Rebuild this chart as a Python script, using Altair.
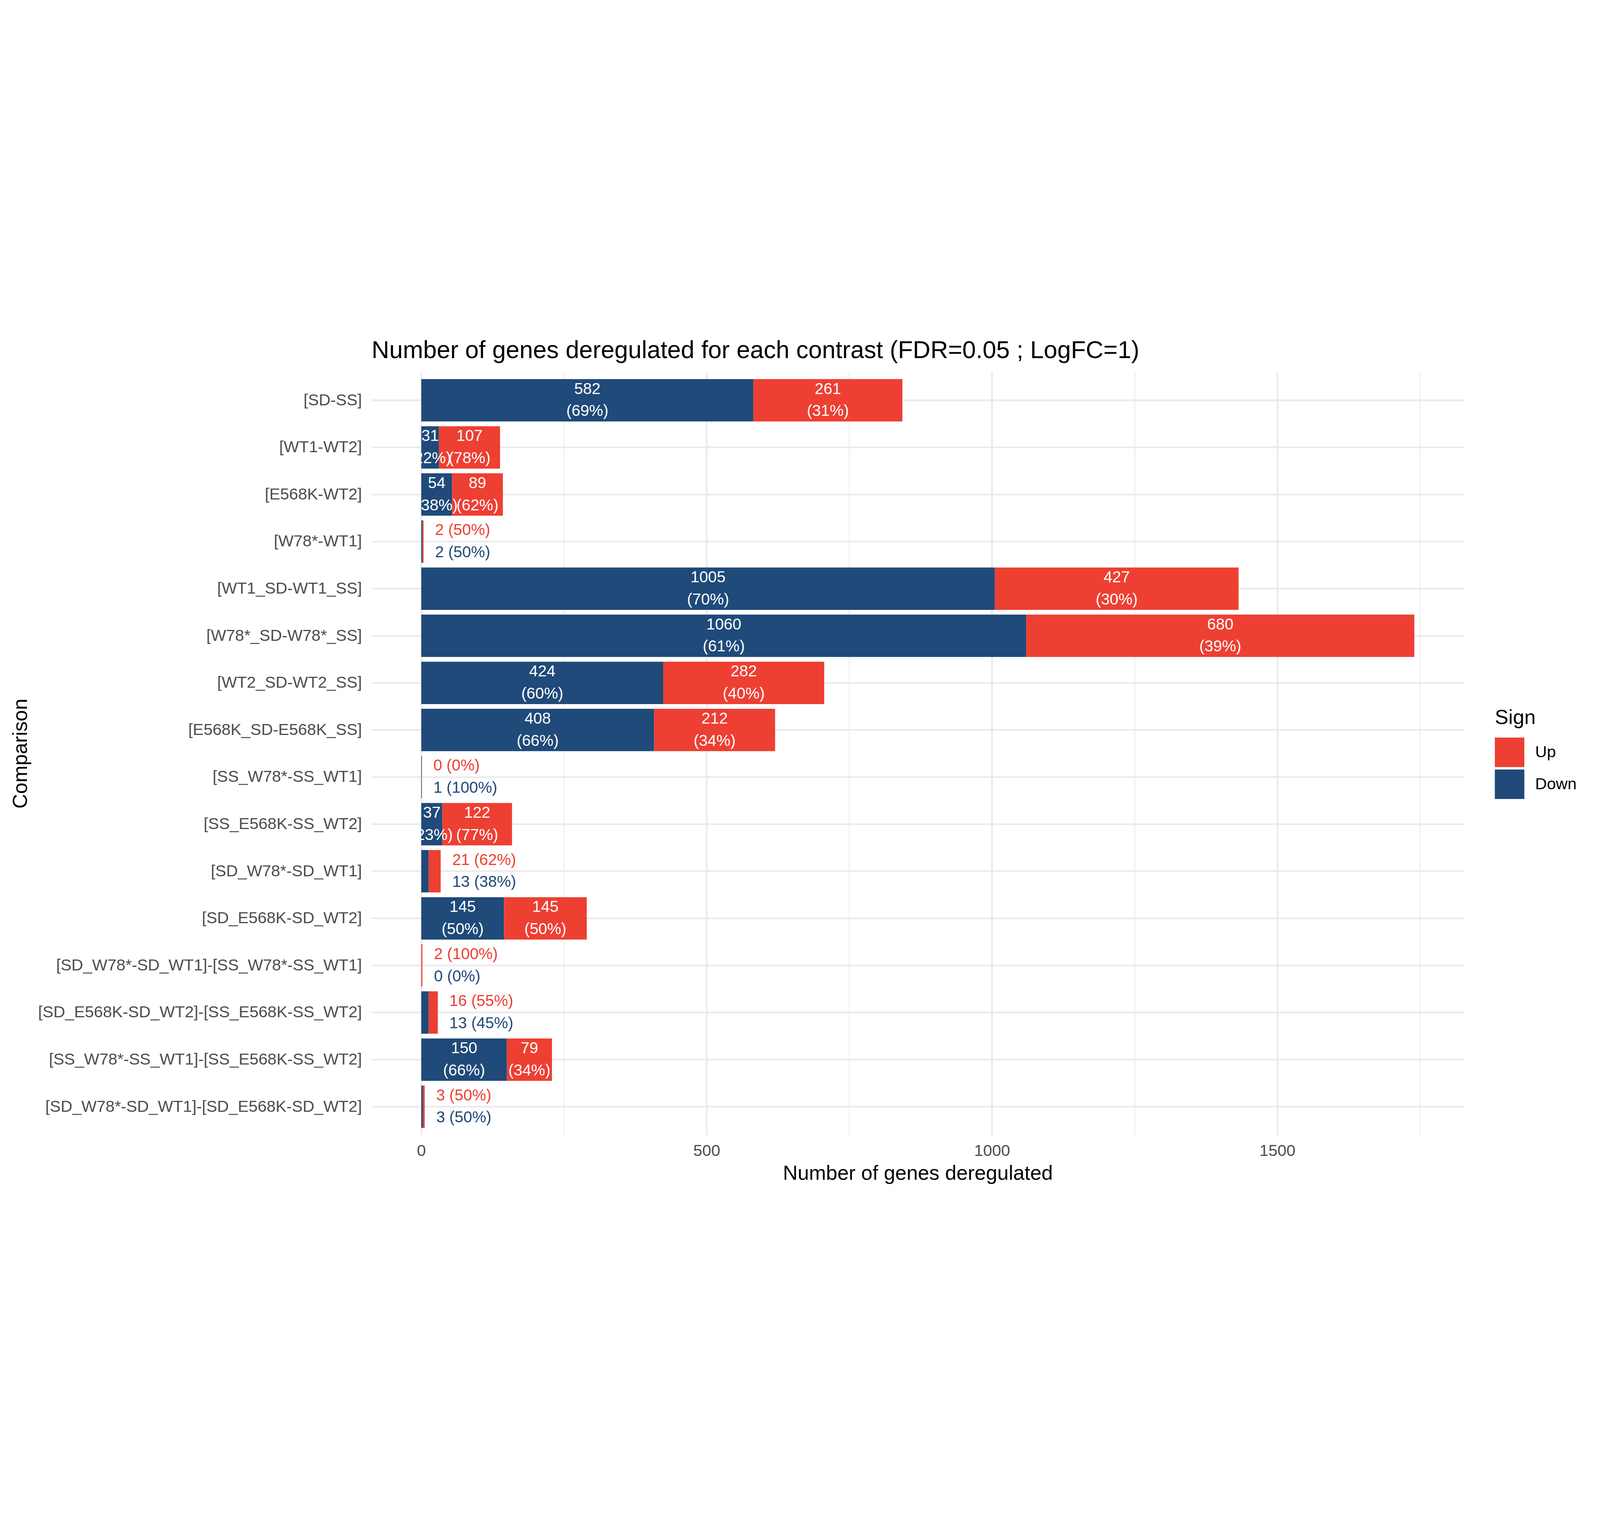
import math
import altair as alt
import pandas as pd

# ---- data ----
comparisons = [
    "[SD-SS]", "[WT1-WT2]", "[E568K-WT2]", "[W78*-WT1]",
    "[WT1_SD-WT1_SS]", "[W78*_SD-W78*_SS]", "[WT2_SD-WT2_SS]", "[E568K_SD-E568K_SS]",
    "[SS_W78*-SS_WT1]", "[SS_E568K-SS_WT2]", "[SD_W78*-SD_WT1]", "[SD_E568K-SD_WT2]",
    "[SD_W78*-SD_WT1]-[SS_W78*-SS_WT1]", "[SD_E568K-SD_WT2]-[SS_E568K-SS_WT2]",
    "[SS_W78*-SS_WT1]-[SS_E568K-SS_WT2]", "[SD_W78*-SD_WT1]-[SD_E568K-SD_WT2]",
]
down_counts = [582, 31, 54, 2, 1005, 1060, 424, 408, 1, 37, 13, 145, 0, 13, 150, 3]
up_counts = [261, 107, 89, 2, 427, 680, 282, 212, 0, 122, 21, 145, 2, 16, 79, 3]
signs = ["Up", "Down"]
sign_colors = ["#EE3F33", "#1F4A79"]
x_tick_values = [0, 250, 500, 750, 1000, 1250, 1500, 1750]

FONT = "Liberation Sans"

# ---- tables ----
bar_rows = []
lab_rows = []
for comp, d, u in zip(comparisons, down_counts, up_counts):
    total = d + u
    inside = total > 100
    pd_ = math.floor(100 * d / total + 0.5) if total else 0
    pu_ = math.floor(100 * u / total + 0.5) if total else 0
    for sign, n, start, pct, order in (("Down", d, 0, pd_, 0), ("Up", u, d, pu_, 1)):
        bar_rows.append({"comparison": comp, "sign": sign, "n": n, "ord": order})
        lab_rows.append({
            "comparison": comp, "sign": sign, "n": n,
            "mid": start + n / 2, "total": total, "inside": inside,
            "line1": str(n), "line2": f"({pct}%)", "outside": f"{n} ({pct}%)",
        })
bar_df = pd.DataFrame(bar_rows)
lab_df = pd.DataFrame(lab_rows)

max_total = max(d + u for d, u in zip(down_counts, up_counts))
x_domain = [-0.05 * max_total, 1.05 * max_total]

x_scale = alt.Scale(domain=x_domain, nice=False, zero=False)
y_sort = comparisons
y_scale = alt.Scale(paddingInner=0.1, paddingOuter=0.15)
color_scale = alt.Scale(domain=signs, range=sign_colors)

x_axis = alt.Axis(
    values=x_tick_values, format="d",
    labelExpr="datum.value % 500 === 0 ? datum.label : ''",
    grid=True, gridColor="#EBEBEB",
    gridWidth={"condition": {"test": "datum.value % 500 === 0", "value": 8}, "value": 4},
    ticks=False, tickSize=0, domain=False,
    labelFont=FONT, labelFontSize=73, labelColor="#4D4D4D", labelPadding=36,
    labelLimit=1000, labelOverlap=False,
    minExtent=109, maxExtent=109,
    title="Number of genes deregulated", titleFont=FONT, titleFontSize=92,
    titleFontWeight="normal", titleColor="black", titlePadding=19,
)
y_axis = alt.Axis(
    grid=True, gridColor="#EBEBEB", gridWidth=8, bandPosition=0.5,
    ticks=False, tickSize=0, domain=False,
    labelFont=FONT, labelFontSize=73, labelColor="#4D4D4D", labelPadding=44,
    minExtent=1512, maxExtent=1512, labelLimit=3000,
    title="Comparison", titleFont=FONT, titleFontSize=92,
    titleFontWeight="normal", titleColor="black", titlePadding=23,
)

legend = alt.Legend(
    orient="none", legendX=5063, legendY=1514, padding=0,
    title="Sign", titleFont=FONT, titleFontSize=92, titleFontWeight="normal",
    titleColor="black", titlePadding=42, titleLimit=1000,
    labelFont=FONT, labelFontSize=73, labelColor="black", labelOffset=49,
    labelLimit=1000,
    symbolType="square", symbolSize=17689, symbolStrokeWidth=0, symbolOpacity=1,
    rowPadding=11,
)

Y = alt.Y("comparison:N", sort=y_sort, scale=y_scale, axis=y_axis)
Y2 = alt.Y("comparison:N", sort=y_sort, scale=y_scale)

bars = alt.Chart(bar_df).mark_bar().encode(
    y=Y,
    x=alt.X("n:Q", stack="zero", scale=x_scale, axis=x_axis),
    color=alt.Color("sign:N", scale=color_scale, legend=legend),
    order=alt.Order("ord:Q"),
)

base_lab = alt.Chart(lab_df)
in_top = base_lab.transform_filter("datum.inside").mark_text(
    color="white", font=FONT, fontSize=71, baseline="middle", dy=-50
).encode(y=Y2, x=alt.X("mid:Q", scale=x_scale), text="line1:N")
in_bot = base_lab.transform_filter("datum.inside").mark_text(
    color="white", font=FONT, fontSize=71, baseline="middle", dy=50
).encode(y=Y2, x=alt.X("mid:Q", scale=x_scale), text="line2:N")
out_up = base_lab.transform_filter("!datum.inside && datum.sign === 'Up'").mark_text(
    align="left", font=FONT, fontSize=71, baseline="middle", dx=52, dy=-50
).encode(y=Y2, x=alt.X("total:Q", scale=x_scale),
         color=alt.Color("sign:N", scale=color_scale, legend=None), text="outside:N")
out_down = base_lab.transform_filter("!datum.inside && datum.sign === 'Down'").mark_text(
    align="left", font=FONT, fontSize=71, baseline="middle", dx=52, dy=50
).encode(y=Y2, x=alt.X("total:Q", scale=x_scale),
         color=alt.Color("sign:N", scale=color_scale, legend=None), text="outside:N")

chart = alt.layer(bars, in_top, in_bot, out_up, out_down).properties(
    width=4924, height=3440,
    autosize=alt.AutoSizeParams(type="none"),
    padding={"left": 1661, "top": 186, "right": 599, "bottom": 258},
    title=alt.TitleParams(
        "Number of genes deregulated for each contrast (FDR=0.05 ; LogFC=1)",
        anchor="start", frame="group", font=FONT, fontSize=110,
        fontWeight="normal", color="black", baseline="alphabetic", offset=-47,
    ),
    background="white",
).configure_view(strokeWidth=0)

chart.save("out.html", embed_options={"renderer": "svg", "actions": False})
